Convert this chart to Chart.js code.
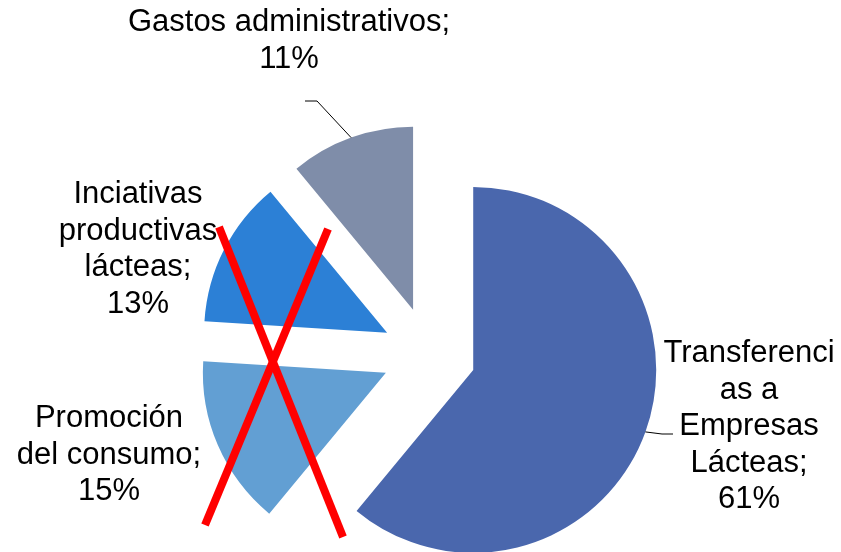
<!DOCTYPE html>
<html>
<head>
<meta charset="utf-8">
<script src="https://cdn.jsdelivr.net/npm/chart.js@4.4.0/dist/chart.umd.min.js"></script>
<style>
    html, body { margin: 0; padding: 0; background: #fff; }
    #wrap { width: 841px; height: 552px; }
</style>
</head>
<body>
<div id="wrap"><canvas id="chart" width="841" height="552"></canvas></div>
<script>
// Budget shares (%), clockwise from 12 o'clock
const categories = ['Transferencias a Empresas Lácteas', 'Promoción del consumo', 'Inciativas productivas lácteas', 'Gastos administrativos'];
const shares = [61, 15, 13, 11];

const sliceColors = ['#4A67AD', '#629FD3', '#2C80D6', '#7F8DA9'];

const EXPLODE = 47;     // every slice pulled out from the centre
const RADIUS = 183;
const FONT_SIZE = 31;
const LINE_HEIGHT = 36.5;

// Label boxes, relative to the pie centre (dx = text centre, dy = first baseline)
const labelLayout = [
    { dx: 320, dy: 8, wrap: 175, leader: [[233, 80], [244, 80]] },
    { dx: -320, dy: 73, wrap: 190 },
    { dx: -291, dy: -151, wrap: 160 },
    { dx: -140, dy: -323, wrap: 330, leader: [[-112, -253], [-124, -253]] }
];

// Red cross over the two smaller blue slices (relative to pie centre)
const crossStrokes = [
    [[-210, -127], [-86, 183]],
    [[-101, -125], [-224, 171]]
];

function wrapText(ctx, text, maxWidth) {
    const lines = [];
    let line = '';
    text.split(' ').forEach(word => {
        const tryLine = line ? line + ' ' + word : word;
        if (ctx.measureText(tryLine).width <= maxWidth) {
            line = tryLine;
            return;
        }
        if (line) lines.push(line);
        line = word;
        // Word alone is too wide: break it by characters like Excel does
        while (ctx.measureText(line).width > maxWidth) {
            let cut = line.length - 1;
            while (cut > 1 && ctx.measureText(line.slice(0, cut)).width > maxWidth) cut--;
            lines.push(line.slice(0, cut));
            line = line.slice(cut);
        }
    });
    if (line) lines.push(line);
    return lines;
}

// Pull each slice out along its middle angle
const explodePlugin = {
    id: 'explode',
    afterDatasetUpdate(chart, args) {
        args.meta.data.forEach(arc => {
            const mid = (arc.startAngle + arc.endAngle) / 2;
            arc.x += Math.cos(mid) * EXPLODE;
            arc.y += Math.sin(mid) * EXPLODE;
        });
    }
};

const labelPlugin = {
    id: 'sliceLabels',
    afterDatasetsDraw(chart) {
        const { ctx, chartArea } = chart;
        const cx = (chartArea.left + chartArea.right) / 2;
        const cy = (chartArea.top + chartArea.bottom) / 2;
        const arcs = chart.getDatasetMeta(0).data;

        ctx.save();
        ctx.font = `${FONT_SIZE}px "Liberation Sans", Arial, sans-serif`;
        ctx.fillStyle = '#000';
        ctx.strokeStyle = '#000';
        ctx.lineWidth = 1;
        ctx.textAlign = 'center';
        ctx.textBaseline = 'alphabetic';

        arcs.forEach((arc, i) => {
            const lay = labelLayout[i];
            const lines = wrapText(ctx, `${categories[i]}; ${shares[i]}%`, lay.wrap);
            lines.forEach((line, k) => {
                ctx.fillText(line, cx + lay.dx, cy + lay.dy + k * LINE_HEIGHT);
            });

            if (lay.leader) {
                const mid = (arc.startAngle + arc.endAngle) / 2;
                ctx.beginPath();
                ctx.moveTo(arc.x + Math.cos(mid) * arc.outerRadius, arc.y + Math.sin(mid) * arc.outerRadius);
                lay.leader.forEach(([dx, dy]) => ctx.lineTo(cx + dx, cy + dy));
                ctx.stroke();
            }
        });

        // Red X
        ctx.strokeStyle = '#FF0000';
        ctx.lineWidth = 8;
        ctx.lineCap = 'butt';
        crossStrokes.forEach(([a, b]) => {
            ctx.beginPath();
            ctx.moveTo(cx + a[0], cy + a[1]);
            ctx.lineTo(cx + b[0], cy + b[1]);
            ctx.stroke();
        });
        ctx.restore();
    }
};

new Chart(document.getElementById('chart'), {
    type: 'pie',
    data: {
        labels: categories,
        datasets: [{
            data: shares,
            backgroundColor: sliceColors,
            borderWidth: 0,
            radius: RADIUS,
            clip: false
        }]
    },
    options: {
        responsive: false,
        devicePixelRatio: 1,
        animation: false,
        events: [],
        layout: {
            padding: { left: 17, right: 0, top: 156, bottom: 0 }
        },
        plugins: {
            legend: { display: false },
            tooltip: { enabled: false }
        }
    },
    plugins: [explodePlugin, labelPlugin]
});
</script>
</body>
</html>
